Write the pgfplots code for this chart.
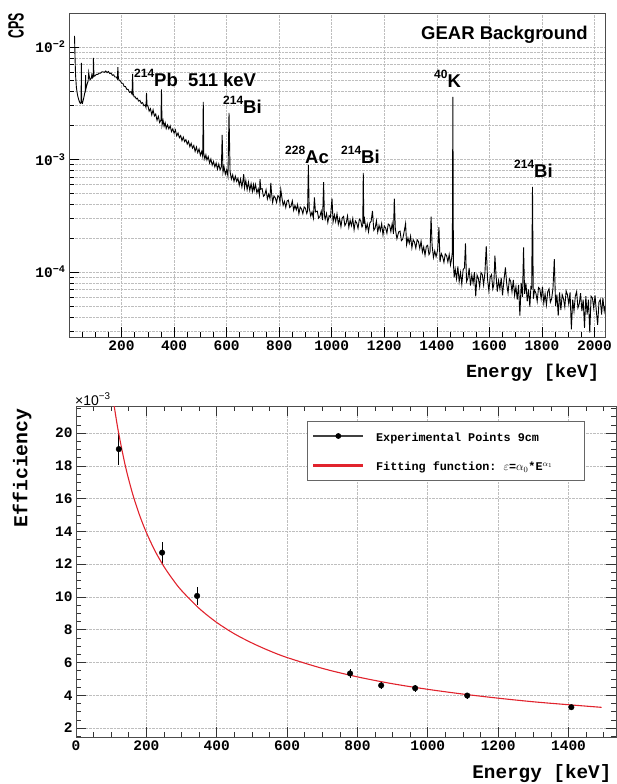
\documentclass[border=0pt]{standalone}
\usepackage{fontspec}
\setmainfont{Liberation Sans}
\setmonofont{Liberation Mono}
\usepackage{pgfplots}
\pgfplotsset{compat=1.18}
\usepackage{pgfplotstable}
\definecolor{fitred}{RGB}{225,35,45}
\definecolor{gridgray}{RGB}{190,190,190}

\pgfplotstableread{
E cps
21 1.25e-2
23 8.0e-3
25 5.6e-3
28 4.4e-3
31 3.9e-3
34 3.6e-3
37 3.4e-3
40 3.25e-3
43 3.15e-3
46 3.2e-3
47 7.2e-3
48 3.2e-3
51 3.15e-3
54 3.35e-3
57 3.6e-3
60 3.9e-3
62 4.1e-3
63 5.6e-3
64 4.2e-3
67 4.5e-3
70 4.75e-3
73 5.0e-3
75 5.9e-3
77 5.5e-3
80 5.1e-3
83 5.2e-3
86 5.4e-3
87 5.8e-3
89 5.3e-3
92 5.4e-3
93 8.0e-3
95 5.5e-3
98 5.5e-3
101 5.6e-3
105 5.7e-3
110 5.7e-3
115 5.85e-3
120 5.85e-3
125 6.0e-3
130 6.0e-3
135 5.95e-3
140 6.1e-3
145 5.9e-3
150 6.05e-3
155 5.8e-3
160 5.85e-3
165 5.6e-3
170 5.65e-3
175 5.4e-3
180 5.4e-3
184 5.2e-3
186 6.6e-3
188 5.25e-3
192 5.0e-3
196 5.0e-3
200 4.75e-3
205 4.75e-3
210 4.45e-3
215 4.45e-3
220 4.2e-3
225 4.2e-3
230 3.95e-3
235 4.0e-3
240 3.8e-3
242 5.75e-3
244 3.85e-3
248 3.6e-3
252 3.6e-3
256 3.45e-3
260 3.5e-3
265 3.3e-3
270 3.35e-3
275 3.15e-3
280 3.2e-3
285 3.0e-3
290 3.05e-3
293 2.9e-3
295 3.9e-3
297 3.0e-3
300 3.02e-3
305 2.69e-3
310 2.83e-3
315 2.49e-3
320 2.76e-3
325 2.43e-3
330 2.53e-3
335 2.23e-3
340 2.42e-3
345 2.13e-3
350 2.24e-3
352 4.2e-3
354 2.01e-3
358 2.23e-3
362 1.97e-3
366 2.12e-3
370 1.88e-3
375 2.03e-3
380 1.87e-3
385 1.99e-3
390 1.77e-3
395 1.87e-3
400 1.71e-3
405 1.83e-3
410 1.62e-3
415 1.72e-3
420 1.56e-3
425 1.63e-3
430 1.47e-3
435 1.58e-3
440 1.44e-3
445 1.50e-3
450 1.37e-3
455 1.45e-3
460 1.30e-3
465 1.39e-3
470 1.26e-3
475 1.33e-3
480 1.18e-3
485 1.29e-3
490 1.15e-3
495 1.24e-3
500 1.09e-3
505 1.18e-3
509 1.06e-3
511 3.25e-3
513 1.13e-3
517 1.01e-3
521 1.10e-3
525 9.9e-4
530 1.06e-3
535 9.3e-4
540 1.01e-3
545 8.9e-4
550 9.6e-4
555 8.6e-4
560 9.3e-4
565 8.2e-4
570 9.1e-4
575 8.1e-4
580 8.6e-4
583 1.65e-3
586 7.7e-4
590 8.6e-4
595 7.4e-4
600 8.1e-4
605 7.1e-4
609 2.6e-3
613 7.8e-4
618 6.7e-4
623 7.3e-4
628 6.4e-4
633 7.1e-4
638 6.4e-4
643 6.8e-4
648 5.9e-4
653 6.7e-4
658 5.7e-4
662 6.5e-4
665 7.4e-4
668 5.6e-4
673 6.5e-4
678 5.4e-4
683 6.3e-4
688 5.3e-4
693 6.1e-4
698 5.2e-4
702 5.96e-4
705 5.34e-4
710 6.00e-4
715 5.05e-4
720 5.48e-4
725 4.80e-4
727 6.7e-4
730 5.45e-4
735 5.51e-4
740 4.71e-4
745 4.85e-4
750 5.39e-4
755 4.46e-4
760 4.93e-4
765 4.49e-4
768 6.2e-4
771 5.01e-4
775 4.16e-4
780 4.75e-4
785 4.57e-4
790 4.16e-4
795 4.77e-4
800 4.63e-4
803 4.15e-4
806 5.4e-4
810 4.65e-4
815 3.92e-4
820 4.25e-4
825 3.75e-4
830 4.28e-4
835 4.35e-4
840 3.74e-4
845 3.85e-4
850 4.28e-4
855 3.54e-4
860 3.91e-4
865 3.57e-4
870 3.98e-4
875 3.30e-4
880 3.78e-4
885 3.63e-4
890 3.30e-4
895 3.79e-4
900 3.68e-4
905 3.31e-4
908 3.5e-4
911 8.9e-4
914 3.72e-4
920 3.15e-4
925 3.42e-4
930 3.01e-4
934 4.6e-4
938 3.42e-4
945 3.48e-4
950 3.01e-4
955 3.12e-4
960 3.48e-4
965 2.89e-4
969 6.3e-4
972 3.21e-4
975 2.95e-4
980 3.31e-4
985 2.76e-4
990 3.17e-4
995 3.07e-4
1001 4.5e-4
1005 2.79e-4
1010 3.22e-4
1015 2.81e-4
1020 3.29e-4
1025 2.66e-4
1030 2.99e-4
1035 2.53e-4
1040 3.03e-4
1045 3.12e-4
1050 2.59e-4
1055 2.73e-4
1060 3.15e-4
1065 2.50e-4
1070 2.88e-4
1075 2.59e-4
1080 2.99e-4
1085 2.38e-4
1090 2.85e-4
1095 2.73e-4
1100 2.45e-4
1105 2.95e-4
1110 2.88e-4
1115 2.52e-4
1118 2.6e-4
1120 7.6e-4
1122 2.7e-4
1125 2.95e-4
1130 2.38e-4
1135 2.68e-4
1140 2.28e-4
1145 2.73e-4
1150 2.83e-4
1155 3.5e-4
1160 2.35e-4
1165 2.45e-4
1170 2.85e-4
1175 2.26e-4
1180 2.60e-4
1185 2.33e-4
1190 2.69e-4
1195 2.14e-4
1200 2.57e-4
1205 2.46e-4
1210 2.21e-4
1215 2.67e-4
1220 2.61e-4
1225 2.29e-4
1230 2.70e-4
1235 2.18e-4
1238 4.5e-4
1242 2.42e-4
1248 1.98e-4
1255 2.28e-4
1260 2.31e-4
1265 1.90e-4
1270 1.96e-4
1275 2.25e-4
1281 2.7e-4
1285 1.75e-4
1290 2.01e-4
1295 1.80e-4
1300 2.08e-4
1305 1.64e-4
1310 1.94e-4
1315 1.84e-4
1320 1.63e-4
1325 1.94e-4
1330 1.87e-4
1335 1.62e-4
1340 1.88e-4
1345 1.50e-4
1350 1.67e-4
1355 1.41e-4
1360 1.69e-4
1365 1.73e-4
1370 1.43e-4
1374 1.49e-4
1378 3.1e-4
1382 1.72e-4
1387 1.35e-4
1392 1.54e-4
1397 1.37e-4
1403 1.57e-4
1408 2.5e-4
1412 1.23e-4
1417 1.46e-4
1422 1.37e-4
1427 1.22e-4
1432 1.45e-4
1437 1.40e-4
1442 1.23e-4
1447 1.43e-4
1452 1.16e-4
1456 1.31e-4
1459 1.5e-4
1461 3.6e-3
1463 1.2e-4
1466 9.0e-5
1470 1.06e-4
1475 8.7e-5
1480 1.12e-4
1485 8.2e-5
1490 9.9e-5
1495 7.8e-5
1500 1.05e-4
1505 1.09e-4
1509 1.8e-4
1513 8.2e-5
1518 8.8e-5
1523 1.09e-4
1528 7.6e-5
1533 9.4e-5
1538 8.0e-5
1543 1.00e-4
1548 6.1e-5
1553 9.4e-5
1558 8.8e-5
1563 7.4e-5
1568 9.9e-5
1573 9.5e-5
1578 7.7e-5
1583 9.9e-5
1588 1.7e-4
1593 8.6e-5
1598 6.8e-5
1603 9.0e-5
1608 9.5e-5
1613 7.1e-5
1617 7.8e-5
1621 1.4e-4
1625 9.6e-5
1630 6.7e-5
1635 8.4e-5
1640 7.1e-5
1645 8.9e-5
1650 6.2e-5
1655 8.3e-5
1661 1.1e-4
1666 7.8e-5
1671 6.5e-5
1676 8.7e-5
1681 8.3e-5
1686 6.7e-5
1691 8.5e-5
1696 6.2e-5
1701 7.4e-5
1706 5.7e-5
1711 7.7e-5
1716 4.1e-5
1721 8.0e-5
1726 6.0e-5
1730 1.66e-4
1734 6.4e-5
1739 8.0e-5
1744 5.5e-5
1749 7.0e-5
1754 4.9e-5
1758 7.4e-5
1761 7.2e-5
1764 5.7e-4
1767 5.8e-5
1772 6.9e-5
1777 6.5e-5
1782 5.5e-5
1787 7.3e-5
1792 7.1e-5
1797 5.8e-5
1802 7.4e-5
1807 5.3e-5
1812 6.4e-5
1817 5.1e-5
1822 6.7e-5
1827 7.1e-5
1832 5.4e-5
1837 5.8e-5
1842 7.2e-5
1847 1.3e-4
1852 5.0e-5
1857 6.3e-5
1862 4.1e-5
1867 6.6e-5
1872 4.6e-5
1877 6.3e-5
1882 5.8e-5
1887 4.9e-5
1892 6.8e-5
1897 6.3e-5
1902 5.2e-5
1907 6.6e-5
1912 3.1e-5
1917 5.7e-5
1922 4.5e-5
1927 6.1e-5
1932 6.7e-5
1937 4.8e-5
1942 5.2e-5
1947 6.5e-5
1952 4.5e-5
1957 5.7e-5
1962 3.2e-5
1967 6.1e-5
1972 4.2e-5
1977 5.7e-5
1982 2.9e-5
1987 6.1e-5
1992 5.9e-5
1997 4.8e-5
2002 6.2e-5
2007 4.5e-5
2012 3.4e-5
2017 5.4e-5
2022 5.7e-5
2027 4.2e-5
2032 5.9e-5
2037 4.5e-5
2040 5.0e-5
}\spectrum

\pgfplotstableread{
E eff err
121.8 19.02 1.00
244.7 12.70 0.68
344.3 10.06 0.55
779.0 5.33 0.30
867.4 4.60 0.25
964.1 4.43 0.22
1112.1 3.98 0.18
1408.0 3.27 0.15
}\effdata

\pgfplotstableread{
E eff
108 21.73
120 20.14
140 18.02
160 16.36
180 15.03
200 13.93
225 12.79
250 11.85
275 11.07
300 10.39
350 9.30
400 8.44
450 7.75
500 7.19
550 6.71
600 6.30
700 5.64
800 5.12
900 4.70
1000 4.36
1100 4.07
1200 3.82
1300 3.60
1400 3.42
1494 3.26
}\fitdata

\newcommand\iso[2]{\raisebox{9pt}{\fontsize{12}{12}\selectfont #1}#2}

\begin{document}
\begin{tikzpicture}[x=1pt,y=1pt]
\useasboundingbox (0,0) rectangle (617,-784);

% ---------------- top panel ----------------
\begin{axis}[
  at={(69pt,-337pt)}, anchor=south west, scale only axis,
  width=536pt, height=324pt,
  xmin=0, xmax=2040,
  ymode=log, ymin=2.65e-5, ymax=0.02,
  xtick={200,400,...,2000},
  minor xtick={50,100,...,2000},
  ytick={1e-4,1e-3,1e-2},
  yticklabels={10\textsuperscript{−4},10\textsuperscript{−3},10\textsuperscript{−2}},
  minor ytick={3e-5,4e-5,5e-5,6e-5,7e-5,8e-5,9e-5,2e-4,3e-4,4e-4,5e-4,6e-4,7e-4,8e-4,9e-4,2e-3,3e-3,4e-3,5e-3,6e-3,7e-3,8e-3,9e-3},
  xmajorgrids, ymajorgrids, yminorgrids,
  major grid style={gridgray, densely dotted, line width=0.6pt},
  minor grid style={gridgray, densely dotted, line width=0.6pt},
  tick pos=left, tick align=inside,
  major tick length=10pt, minor tick length=5pt,
  tick style={black, line width=0.6pt},
  ticklabel style={font=\ttfamily\bfseries\fontsize{14.5}{15}\selectfont},
  /pgf/number format/1000 sep={},
  /pgf/number format/assume math mode=true,
  axis line style={black!70, line width=0.7pt},
  xlabel={Energy [keV]},
  xlabel style={at={(axis description cs:0.996,-0.111)}, anchor=east, font=\ttfamily\bfseries\fontsize{18.5}{19}\selectfont},
]
\addplot[black, line width=0.9pt] table[x=E, y=cps] {\spectrum};
\end{axis}

\node[rotate=90, inner sep=0pt, anchor=center, font=\bfseries\fontsize{22}{22}\selectfont] at (16,-25.5) {\scalebox{0.56}[1]{CPS}};

\begin{scope}[every node/.style={inner sep=0pt, anchor=base west, font=\bfseries\fontsize{18.5}{18.5}\selectfont}]
\node at (421,-40) {GEAR Background};
\node at (134,-86) {\iso{214}{Pb}};
\node at (188,-86) {511 keV};
\node at (223,-113) {\iso{214}{Bi}};
\node at (285,-163) {\iso{228}{Ac}};
\node at (341,-163) {\iso{214}{Bi}};
\node at (434,-87) {\iso{40}{K}};
\node at (514,-177) {\iso{214}{Bi}};
\end{scope}

% ---------------- bottom panel ----------------
\begin{axis}[
  at={(76pt,-737pt)}, anchor=south west, scale only axis,
  width=540pt, height=331pt,
  xmin=0, xmax=1535, ymin=1.45, ymax=21.65,
  xtick={0,200,...,1400},
  minor xtick={50,100,...,1500},
  ytick={2,4,...,20},
  minor ytick={1.5,2,...,21.5},
  xmajorgrids, ymajorgrids,
  major grid style={gridgray, densely dotted, line width=0.6pt},
  tick pos=both, tick align=inside,
  major tick length=10pt, minor tick length=5pt,
  tick style={black!80, line width=0.6pt},
  ticklabel style={font=\ttfamily\bfseries\fontsize{14.5}{15}\selectfont},
  /pgf/number format/1000 sep={},
  /pgf/number format/assume math mode=true,
  axis line style={black!70, line width=0.7pt},
  xlabel={Energy [keV]},
  xlabel style={at={(axis description cs:0.998,-0.109)}, anchor=east, font=\ttfamily\bfseries\fontsize{19.3}{20}\selectfont},
  ylabel={Efficiency},
  ylabel style={at={(axis description cs:-0.1,0.813)}, anchor=center, font=\ttfamily\bfseries\fontsize{19.8}{20}\selectfont},
  legend style={at={(0.428,0.955)}, anchor=north west, draw=black!60, line width=0.7pt, fill=white,
    font=\ttfamily\bfseries\fontsize{11.8}{12}\selectfont, inner xsep=6pt, inner ysep=6pt, row sep=12pt, column sep=11pt},
  legend cell align=left,
]
\addplot[only marks, black, mark=*, mark size=2.8pt, forget plot,
  error bars/.cd, y dir=both, y explicit, error mark=none,
  error bar style={black, line width=0.7pt}]
  table[x=E, y=eff, y error=err] {\effdata};
\addplot[color=fitred, line width=1.1pt, smooth, forget plot] table[x=E, y=eff] {\fitdata};
\addlegendimage{legend image code/.code={\fill[black!75] (0pt,-0.45pt) rectangle (49pt,0.45pt); \fill[black] (24.5pt,0pt) circle (2.5pt);}}
\addlegendentry{\makebox[200pt][l]{\rule[-6pt]{0pt}{18pt}Experimental Points 9cm}}
\addlegendimage{legend image code/.code={\fill[fitred] (0pt,-0.7pt) rectangle (49pt,0.7pt);}}
\addlegendentry{\makebox[200pt][l]{\rule[-6pt]{0pt}{18pt}Fitting function: $\varepsilon$=$\alpha_0$*E$^{\alpha_1}$}}
\end{axis}

\node[anchor=base west, inner sep=0pt, font=\fontsize{14}{14}\selectfont] at (75,-405) {×10\textsuperscript{−3}};

\end{tikzpicture}
\end{document}
